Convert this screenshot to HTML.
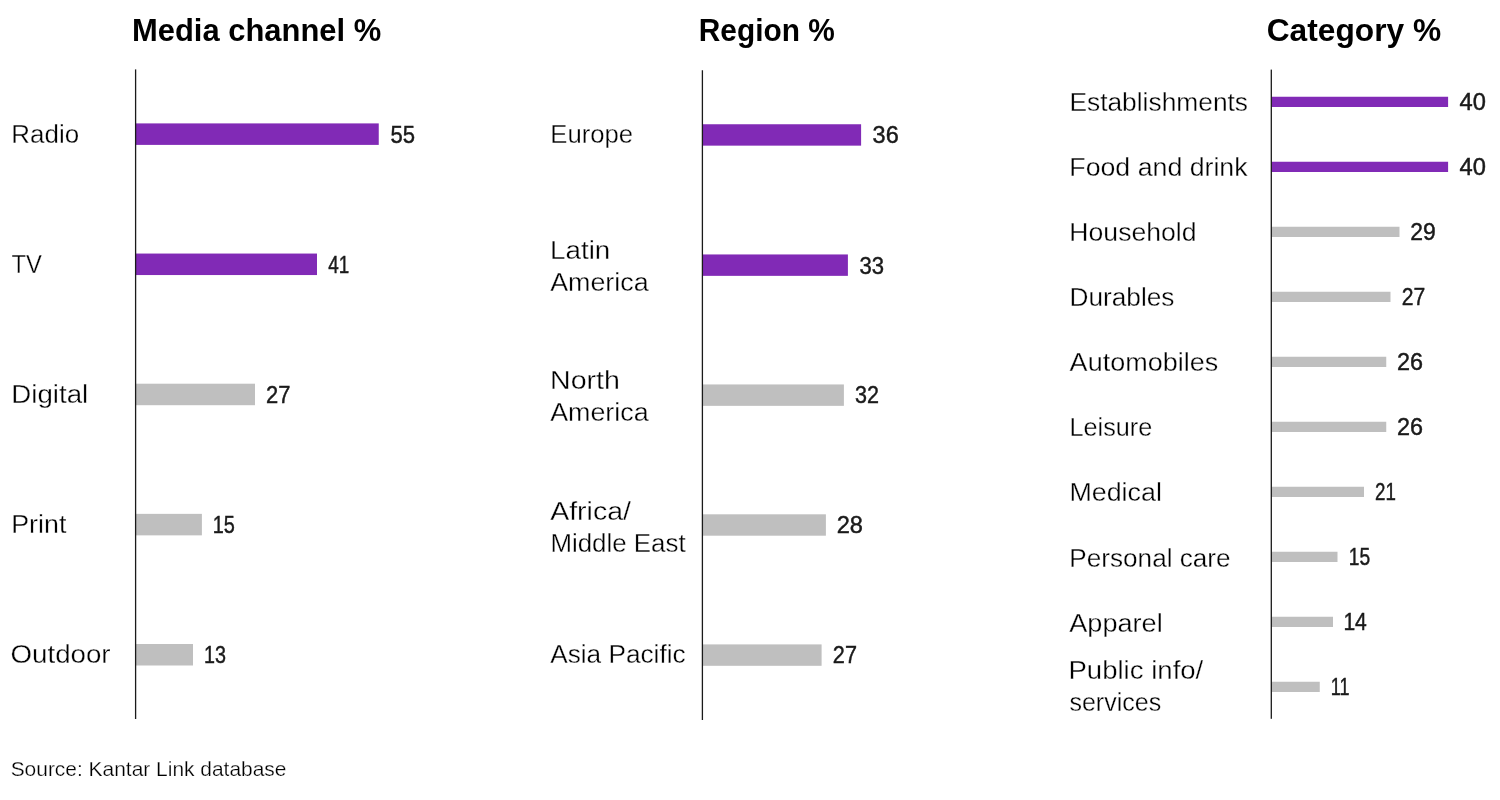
<!DOCTYPE html>
<html lang="en">
<head>
<meta charset="utf-8">
<title>Kantar Link database charts</title>
<style>
html,body{margin:0;padding:0;background:#fff;}
body{width:1500px;height:800px;overflow:hidden;}
svg{display:block;}
text{font-family:"Liberation Sans",sans-serif;fill:#1a1a1a;}
.label{font-size:26.4px;font-weight:400;fill:#000;stroke:#fff;stroke-width:0.32px;paint-order:fill stroke;}
.src{font-size:20.3px;font-weight:400;fill:#000;stroke:#fff;stroke-width:0.25px;paint-order:fill stroke;}
.val{font-size:23.4px;font-weight:400;stroke:#1a1a1a;stroke-width:0.45px;}
.title{font-size:30.8px;font-weight:700;fill:#000;}
</style>
</head>
<body>
<svg width="1500" height="800" viewBox="0 0 1500 800">
<rect width="1500" height="800" fill="#ffffff"/>
<rect x="135.60" y="123.40" width="243.15" height="21.50" fill="#812ab6"/>
<rect x="135.60" y="253.55" width="181.40" height="21.50" fill="#812ab6"/>
<rect x="135.60" y="383.70" width="119.40" height="21.50" fill="#bfbfbf"/>
<rect x="135.60" y="513.85" width="66.30" height="21.50" fill="#bfbfbf"/>
<rect x="135.60" y="644.00" width="57.40" height="21.50" fill="#bfbfbf"/>
<rect x="702.40" y="124.25" width="158.70" height="21.40" fill="#812ab6"/>
<rect x="702.40" y="254.45" width="145.50" height="21.40" fill="#812ab6"/>
<rect x="702.40" y="384.45" width="141.50" height="21.40" fill="#bfbfbf"/>
<rect x="702.40" y="514.30" width="123.50" height="21.40" fill="#bfbfbf"/>
<rect x="702.40" y="644.40" width="119.20" height="21.40" fill="#bfbfbf"/>
<rect x="1271.30" y="96.75" width="176.80" height="10.25" fill="#812ab6"/>
<rect x="1271.30" y="161.75" width="176.80" height="10.25" fill="#812ab6"/>
<rect x="1271.30" y="226.75" width="128.20" height="10.25" fill="#bfbfbf"/>
<rect x="1271.30" y="291.75" width="119.20" height="10.25" fill="#bfbfbf"/>
<rect x="1271.30" y="356.75" width="114.95" height="10.25" fill="#bfbfbf"/>
<rect x="1271.30" y="421.75" width="114.95" height="10.25" fill="#bfbfbf"/>
<rect x="1271.30" y="486.75" width="92.70" height="10.25" fill="#bfbfbf"/>
<rect x="1271.30" y="551.75" width="66.20" height="10.25" fill="#bfbfbf"/>
<rect x="1271.30" y="616.75" width="61.70" height="10.25" fill="#bfbfbf"/>
<rect x="1271.30" y="681.75" width="48.45" height="10.25" fill="#bfbfbf"/>
<rect x="134.95" y="69.40" width="1.3" height="649.60" fill="#1a1a1a"/>
<rect x="701.75" y="70.25" width="1.3" height="649.75" fill="#1a1a1a"/>
<rect x="1270.65" y="69.60" width="1.3" height="649.20" fill="#1a1a1a"/>
<text id="t1" class="title" x="131.99" y="40.60" textLength="249.20" lengthAdjust="spacingAndGlyphs">Media channel %</text>
<text id="t2" class="title" x="698.83" y="40.70" textLength="135.89" lengthAdjust="spacingAndGlyphs">Region %</text>
<text id="t3" class="title" x="1266.72" y="40.60" textLength="174.39" lengthAdjust="spacingAndGlyphs">Category %</text>
<text id="a1" class="label" x="11.34" y="143.00" textLength="67.82" lengthAdjust="spacingAndGlyphs">Radio</text>
<text id="a2" class="label" x="11.39" y="273.30" textLength="30.41" lengthAdjust="spacingAndGlyphs">TV</text>
<text id="a3" class="label" x="11.30" y="403.20" textLength="76.96" lengthAdjust="spacingAndGlyphs">Digital</text>
<text id="a4" class="label" x="11.25" y="533.20" textLength="55.09" lengthAdjust="spacingAndGlyphs">Print</text>
<text id="a5" class="label" x="10.54" y="663.20" textLength="100.01" lengthAdjust="spacingAndGlyphs">Outdoor</text>
<text id="av1" class="val" x="390.44" y="142.60" textLength="24.52" lengthAdjust="spacingAndGlyphs">55</text>
<text id="av2" class="val" x="328.18" y="272.70" textLength="20.99" lengthAdjust="spacingAndGlyphs">41</text>
<text id="av3" class="val" x="266.11" y="402.80" textLength="24.42" lengthAdjust="spacingAndGlyphs">27</text>
<text id="av4" class="val" x="212.67" y="532.90" textLength="22.15" lengthAdjust="spacingAndGlyphs">15</text>
<text id="av5" class="val" x="203.97" y="663.00" textLength="21.96" lengthAdjust="spacingAndGlyphs">13</text>
<text id="b1" class="label" x="550.30" y="143.30" textLength="82.83" lengthAdjust="spacingAndGlyphs">Europe</text>
<text id="b2a" class="label" x="550.13" y="258.80" textLength="60.19" lengthAdjust="spacingAndGlyphs">Latin</text>
<text id="b2b" class="label" x="550.19" y="290.50" textLength="98.41" lengthAdjust="spacingAndGlyphs">America</text>
<text id="b3a" class="label" x="550.01" y="389.40" textLength="69.88" lengthAdjust="spacingAndGlyphs">North</text>
<text id="b3b" class="label" x="550.19" y="421.10" textLength="98.41" lengthAdjust="spacingAndGlyphs">America</text>
<text id="b4a" class="label" x="550.17" y="519.90" textLength="80.74" lengthAdjust="spacingAndGlyphs">Africa/</text>
<text id="b4b" class="label" x="550.38" y="551.60" textLength="135.24" lengthAdjust="spacingAndGlyphs">Middle East</text>
<text id="b5" class="label" x="550.17" y="663.40" textLength="135.44" lengthAdjust="spacingAndGlyphs">Asia Pacific</text>
<text id="bv1" class="val" x="872.61" y="143.40" textLength="26.15" lengthAdjust="spacingAndGlyphs">36</text>
<text id="bv2" class="val" x="859.45" y="273.50" textLength="24.55" lengthAdjust="spacingAndGlyphs">33</text>
<text id="bv3" class="val" x="854.96" y="403.40" textLength="23.97" lengthAdjust="spacingAndGlyphs">32</text>
<text id="bv4" class="val" x="836.67" y="533.30" textLength="26.29" lengthAdjust="spacingAndGlyphs">28</text>
<text id="bv5" class="val" x="832.86" y="663.30" textLength="24.10" lengthAdjust="spacingAndGlyphs">27</text>
<text id="c1" class="label" x="1069.43" y="110.70" textLength="178.60" lengthAdjust="spacingAndGlyphs">Establishments</text>
<text id="c2" class="label" x="1069.32" y="175.83" textLength="178.29" lengthAdjust="spacingAndGlyphs">Food and drink</text>
<text id="c3" class="label" x="1069.35" y="240.96" textLength="127.18" lengthAdjust="spacingAndGlyphs">Household</text>
<text id="c4" class="label" x="1069.46" y="306.09" textLength="105.03" lengthAdjust="spacingAndGlyphs">Durables</text>
<text id="c5" class="label" x="1069.63" y="371.22" textLength="148.56" lengthAdjust="spacingAndGlyphs">Automobiles</text>
<text id="c6" class="label" x="1069.44" y="436.35" textLength="82.81" lengthAdjust="spacingAndGlyphs">Leisure</text>
<text id="c7" class="label" x="1069.45" y="501.48" textLength="92.41" lengthAdjust="spacingAndGlyphs">Medical</text>
<text id="c8" class="label" x="1069.33" y="566.61" textLength="161.27" lengthAdjust="spacingAndGlyphs">Personal care</text>
<text id="c9" class="label" x="1069.29" y="631.74" textLength="93.40" lengthAdjust="spacingAndGlyphs">Apparel</text>
<text id="c10a" class="label" x="1068.46" y="679.30" textLength="134.82" lengthAdjust="spacingAndGlyphs">Public info/</text>
<text id="c10b" class="label" x="1069.42" y="711.20" textLength="91.75" lengthAdjust="spacingAndGlyphs">services</text>
<text id="cv1" class="val" x="1459.57" y="110.00" textLength="26.36" lengthAdjust="spacingAndGlyphs">40</text>
<text id="cv2" class="val" x="1459.57" y="175.00" textLength="26.36" lengthAdjust="spacingAndGlyphs">40</text>
<text id="cv3" class="val" x="1410.37" y="240.00" textLength="25.48" lengthAdjust="spacingAndGlyphs">29</text>
<text id="cv4" class="val" x="1401.73" y="305.00" textLength="23.52" lengthAdjust="spacingAndGlyphs">27</text>
<text id="cv5" class="val" x="1396.90" y="370.00" textLength="26.03" lengthAdjust="spacingAndGlyphs">26</text>
<text id="cv6" class="val" x="1396.90" y="435.00" textLength="26.03" lengthAdjust="spacingAndGlyphs">26</text>
<text id="cv7" class="val" x="1375.12" y="500.00" textLength="20.87" lengthAdjust="spacingAndGlyphs">21</text>
<text id="cv8" class="val" x="1348.72" y="565.00" textLength="21.37" lengthAdjust="spacingAndGlyphs">15</text>
<text id="cv9" class="val" x="1343.39" y="630.00" textLength="23.44" lengthAdjust="spacingAndGlyphs">14</text>
<text id="cv10" class="val" x="1330.78" y="695.00" textLength="18.72" lengthAdjust="spacingAndGlyphs">11</text>
<text id="src" class="src" x="10.67" y="776.00" textLength="275.82" lengthAdjust="spacingAndGlyphs">Source: Kantar Link database</text>
</svg>
</body>
</html>
